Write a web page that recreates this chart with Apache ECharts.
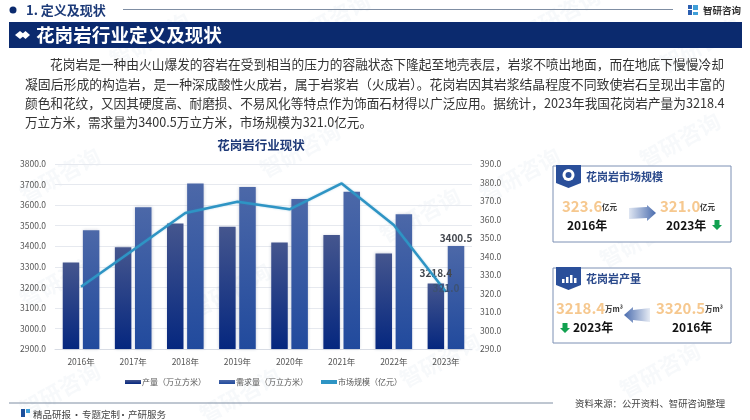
<!DOCTYPE html>
<html><head><meta charset="utf-8">
<style>html,body{margin:0;padding:0;background:#fff}#c{width:750px;height:420px}</style>
<script src="https://cdn.jsdelivr.net/npm/echarts@6/dist/echarts.min.js"></script>
</head><body><div id="c"></div>
<script>
const years=['2016年','2017年','2018年','2019年','2020年','2021年','2022年','2023年'];
const output=[3320.5,3395,3510,3495,3418,3455,3365,3218.4];
const demand=[3478,3590,3705,3688,3630,3665,3555,3400.5];
const market=[323.6,343.5,363.5,369.6,365.5,379.5,357,321.0];
const seriesNames=['产量（万立方米）','需求量（万立方米）','市场规模（亿元）'];
const paragraph=[
 '花岗岩是一种由火山爆发的容岩在受到相当的压力的容融状态下隆起至地壳表层，岩浆不喷出地面，而在地底下慢慢冷却',
 '凝固后形成的构造岩，是一种深成酸性火成岩，属于岩浆岩（火成岩）。花岗岩因其岩浆结晶程度不同致使岩石呈现出丰富的',
 '颜色和花纹，又因其硬度高、耐磨损、不易风化等特点作为饰面石材得以广泛应用。据统计，2023年我国花岗岩产量为3218.4',
 '万立方米，需求量为3400.5万立方米，市场规模为321.0亿元。'];
const F='"Noto Sans CJK SC","Noto Sans",sans-serif';
const NAVY='#0b2a6e';
const chart=echarts.init(document.getElementById('c'),null,{renderer:'canvas'});
function T(x,y,text,size,fill,weight,align,extra){
  return Object.assign({type:'text',x:x,y:y,silent:true,style:{text:text,fill:fill||'#333',
    font:(weight||'normal')+' '+size+'px '+F,textAlign:align||'left',textVerticalAlign:'middle'}},extra||{});
}
function lastLabel(arr,label){
  return arr.map((v,i)=>i===arr.length-1?{value:v,label:Object.assign({show:true,fontFamily:F,fontWeight:'bold',fontSize:10,color:'#44484f',formatter:p=>p.value.toFixed(1)},label)}:v);
}
function grad(a,b){return {type:'linear',x:0,y:0,x2:0,y2:1,colorStops:[{offset:0,color:a},{offset:1,color:b}]};}
function hgrad(a,b){return {type:'linear',x:0,y:0,x2:1,y2:0,colorStops:[{offset:0,color:a},{offset:1,color:b}]};}
const g=[];
// watermarks
[[60,175],[300,150],[520,175],[680,140],[60,280],[230,290],[420,215],[640,240],[60,390],[240,395],[440,360],[660,370],[150,40],[330,20],[560,15],[700,45]].forEach(p=>{
  g.push({type:'text',x:p[0],y:p[1],rotation:0.5,silent:true,z:0,style:{text:'智研咨询',fill:'rgba(60,100,160,0.04)',font:'bold 22px '+F,textAlign:'center',textVerticalAlign:'middle'}});
});
// header
g.push({type:'circle',silent:true,shape:{cx:13,cy:10,r:3.5},style:{fill:NAVY}});
g.push(T(26,10,'1. 定义及现状',13,'#1c3a78','bold'));
g.push({type:'line',silent:true,shape:{x1:123,y1:9.5,x2:673,y2:9.5},style:{stroke:'#7f8ea3',lineWidth:1}});
g.push({type:'rect',silent:true,shape:{x:688,y:5,width:4,height:4},style:{fill:'#2c5fb0'}});
g.push({type:'rect',silent:true,shape:{x:688,y:10,width:4,height:5},style:{fill:'#2c5fb0'}});
g.push({type:'rect',silent:true,shape:{x:693,y:5,width:5,height:5},style:{fill:'#3f9fd8'}});
g.push({type:'rect',silent:true,shape:{x:693,y:12,width:5,height:3},style:{fill:'#3f9fd8'}});
g.push(T(703,10,'智研咨询',9.5,'#333','bold'));
g.push({type:'rect',silent:true,shape:{x:9,y:22,width:733,height:26},style:{fill:NAVY}});
g.push({type:'polygon',silent:true,shape:{points:[[15,35],[20,31],[25,35],[20,39]]},style:{fill:'#fff'}});
g.push({type:'polygon',silent:true,shape:{points:[[21,35],[25.5,31],[30,35],[25.5,39]]},style:{fill:'#fff'}});
g.push(T(36,35,'花岗岩行业定义及现状',18.6,'#fff','bold'));
// paragraph
const py=[64,84,103,122], px=[50,25,25,25], ps=[13,12.85,12.66,12.6], sx=[0.978,1,1,1];
paragraph.forEach((t,i)=>g.push(T(px[i],py[i],t,ps[i],'#333','normal','left',{scaleX:sx[i]})));
// chart title
g.push(T(261,145,'花岗岩行业现状',12.5,'#1f3a78','bold','center'));
// footer
g.push({type:'line',silent:true,shape:{x1:9,y1:403,x2:553,y2:403},style:{stroke:'#7f8ea3',lineWidth:1}});
g.push({type:'rect',silent:true,shape:{x:21,y:409,width:4,height:8},style:{fill:'#1c4f9c'}});
g.push({type:'rect',silent:true,shape:{x:26,y:409,width:4,height:4},style:{fill:'#3f9fd8'}});
g.push(T(33,414,'精品研报',9.5,'#444'));
g.push(T(76.5,414,'·',9.5,'#444','normal','center'));
g.push(T(82,414,'专题定制',9.5,'#444'));
g.push(T(123,414,'·',9.5,'#444','normal','center'));
g.push(T(128,414,'产研服务',9.5,'#444'));
g.push(T(575,403,'资料来源：公开资料、智研咨询整理',9.4,'#444'));
// cards
function card(y,h,title){
  g.push({type:'rect',silent:true,shape:{x:553,y:y,width:178,height:h},style:{fill:'#fff',stroke:'#7d90b4',lineWidth:1}});
  g.push({type:'polygon',silent:true,shape:{points:[[556,y-1],[581,y-1],[581,y+17],[568.5,y+22],[556,y+17]]},style:{fill:'#2a4f9a'}});
  g.push(T(586,y+10.5,title,11,'#2b4a8c','bold'));
}
function down(x,y){
  g.push({type:'polygon',silent:true,shape:{points:[[x+2.5,y],[x+7.5,y],[x+7.5,y+5],[x+10,y+5],[x+5,y+10],[x,y+5],[x+2.5,y+5]]},style:{fill:'#12a150'}});
}
const ORANGE='#f6c88f';
card(166,76,'花岗岩市场规模');
g.push({type:'circle',silent:true,shape:{cx:568.5,cy:175,r:6},style:{fill:'#fff'}});
g.push({type:'circle',silent:true,shape:{cx:568.5,cy:175,r:3},style:{fill:'#2a4f9a'}});
g.push(T(562,206,'323.6',15,ORANGE,'bold'));
g.push(T(602,207,'亿元',7.5,'#333','bold'));
g.push(T(567,225,'2016年',12,'#111','bold'));
g.push({type:'polygon',silent:true,shape:{points:[[629,208],[647,207],[647,205],[656,213],[647,221],[647,218],[629,219]]},style:{fill:hgrad('#dfe6f2','#4a6cae')}});
g.push(T(660,206,'321.0',15,ORANGE,'bold'));
g.push(T(700,207,'亿元',7.5,'#333','bold'));
g.push(T(666,225,'2023年',12,'#111','bold'));
down(712,220);
card(268,75,'花岗岩产量');
[[562,4],[566,6],[570,8],[574,5]].forEach(b=>g.push({type:'rect',silent:true,shape:{x:b[0],y:283-b[1],width:2.5,height:b[1]},style:{fill:'#fff'}}));
g.push(T(556,308,'3218.4',15,ORANGE,'bold'));
g.push(T(605,309,'万m³',7.5,'#333','bold'));
g.push({type:'polygon',silent:true,shape:{points:[[624,315],[633,307],[633,310],[650,308],[650,322],[633,320],[633,323]]},style:{fill:hgrad('#4a6cae','#e6ebf4')}});
g.push(T(656,308,'3320.5',15,ORANGE,'bold'));
g.push(T(705,309,'万m³',7.5,'#333','bold'));
down(560,323);
g.push(T(573,327,'2023年',12,'#111','bold'));
g.push(T(672,327,'2016年',12,'#111','bold'));

const axisLabel={fontFamily:F,fontSize:8.5,color:'#555',formatter:v=>v.toFixed(1)};
chart.setOption({
  animation:false,
  backgroundColor:'#fff',
  graphic:g,
  grid:{left:55,right:278,top:164,height:185,containLabel:false},
  legend:{left:120,top:373,itemWidth:16,itemHeight:4,itemGap:13,
    textStyle:{fontFamily:F,fontSize:8,color:'#555',padding:[0,0,0,-4]},
    data:seriesNames.map((n,i)=>i===2?{name:n,icon:'rect',itemStyle:{color:'#2e94c4'}}:{name:n,icon:'rect'})},
  xAxis:{type:'category',data:years,axisTick:{show:false},
    axisLine:{lineStyle:{color:'#d8dce4'}},
    axisLabel:{fontFamily:F,fontSize:8.5,color:'#555',margin:9}},
  yAxis:[
   {type:'value',min:2900,max:3800,interval:100,axisLine:{show:false},axisTick:{show:false},
    axisLabel:Object.assign({margin:9},axisLabel),splitLine:{lineStyle:{color:'#e6e9ef',width:1}}},
   {type:'value',min:290,max:390,interval:10,axisLine:{show:false},axisTick:{show:false},
    axisLabel:Object.assign({margin:8},axisLabel),splitLine:{show:false}}],
  series:[
   {name:seriesNames[0],type:'bar',barWidth:16.5,barGap:'22%',yAxisIndex:0,data:lastLabel(output,{position:'top',distance:5}),
    itemStyle:{color:grad('#45568e','#05277f'),shadowBlur:3,shadowColor:'rgba(40,60,110,0.25)'}},
   {name:seriesNames[1],type:'bar',barWidth:16.5,yAxisIndex:0,data:lastLabel(demand,{position:'top',distance:3}),
    itemStyle:{color:grad('#4c68a8','#214a9d'),shadowBlur:3,shadowColor:'rgba(40,60,110,0.25)'}},
   {name:seriesNames[2],type:'line',yAxisIndex:1,smooth:false,symbol:'circle',symbolSize:0.1,showSymbol:true,showAllSymbol:true,
    data:lastLabel(market,{position:'top',distance:-2,color:'#3d5273'}),
    labelLayout:{hideOverlap:false},
    lineStyle:{color:'#2e94c4',width:2.5,shadowBlur:2,shadowColor:'rgba(46,148,196,0.4)'},itemStyle:{color:'#2e94c4'},z:5}
  ]
});
</script></body></html>
